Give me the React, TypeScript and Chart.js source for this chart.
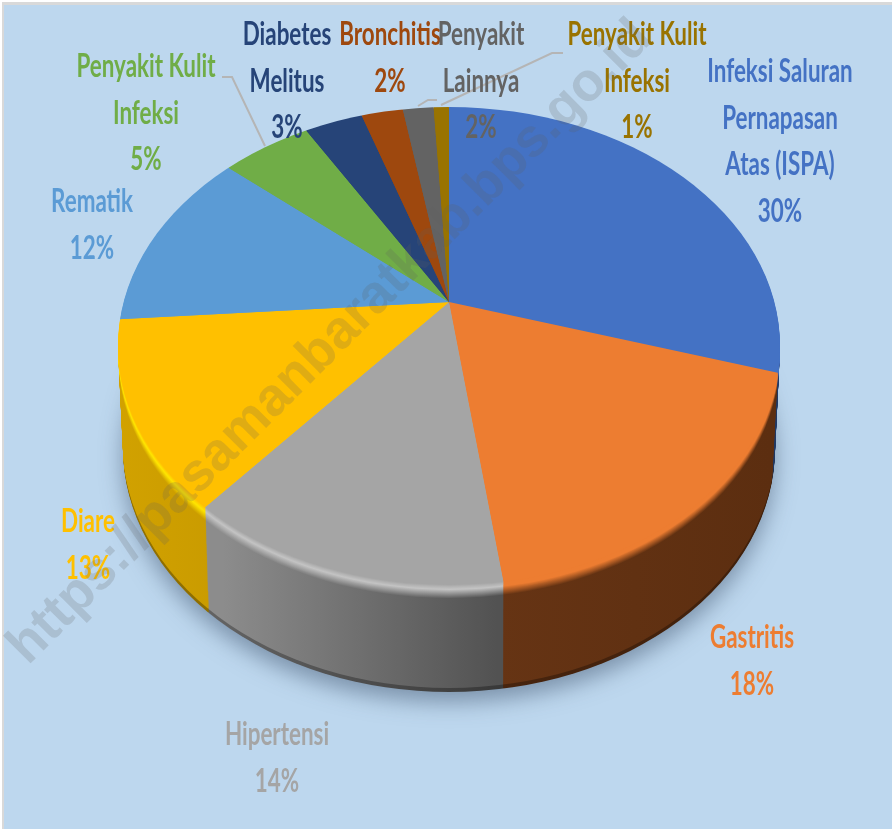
import React, { useEffect, useRef } from "react";
import { Chart, registerables } from "chart.js";

Chart.register(...registerables);

const categories = [
  "Infeksi Saluran Pernapasan Atas (ISPA)", "Gastritis", "Hipertensi", "Diare", "Rematik",
  "Penyakit Kulit Infeksi", "Diabetes Melitus", "Bronchitis", "Penyakit Lainnya", "Penyakit Kulit Infeksi",
];
const values = [30.3, 17.5, 13.8, 13.0, 12.0, 5.0, 3.3, 2.4, 1.8, 0.9];
const faceColors = ["#4472C4", "#ED7D31", "#A5A5A5", "#FFC000", "#5B9BD5", "#70AD47", "#264478", "#9E480E", "#636363", "#997300"];
const rimColors = ["#4472C4", "#ED7D31", "#C4C4C4", "#FFE600", "#7DB5E8", "#70AD47", "#264478", "#9E480E", "#636363", "#997300"];
const wallLeft = ["#2A4A80", "#663414", "#8C8C8C", "#D2A200", "#3A6A96", "#4A7230", "#1A2E50", "#6A300A", "#444444", "#664D00"];
const wallRight = ["#1F3864", "#5C2E10", "#525252", "#C99B00", "#3A6A96", "#4A7230", "#1A2E50", "#6A300A", "#444444", "#664D00"];

const labelLines = [
  ["Infeksi Saluran", "Pernapasan", "Atas (ISPA)", "30%"],
  ["Gastritis", "18%"],
  ["Hipertensi", "14%"],
  ["Diare", "13%"],
  ["Rematik", "12%"],
  ["Penyakit Kulit", "Infeksi", "5%"],
  ["Diabetes", "Melitus", "3%"],
  ["Bronchitis", "2%"],
  ["Penyakit", "Lainnya", "2%"],
  ["Penyakit Kulit", "Infeksi", "1%"],
];
const labelAnchors = [[780, 82], [752, 648], [277, 745], [88, 532], [92, 212], [146, 77], [287, 45], [390, 45], [481, 45], [637, 45]];
const leaderLines = [
  [[222, 77], [232, 77], [265, 146]],
  [[418, 106], [428, 100], [437, 100]],
  [[441, 105], [552, 53], [563, 53]],
];
const watermark = "https://pasamanbaratkab.bps.go.id";

// geometry of the tilted pie
const APEX = { x: 449, y: 302 };
const FACE = { x: 449, y: 346, rx: 331, ry: 239 };
const BASE = { x: 449, y: 448, rx: 326, ry: 244 };
const DEPTH = 108;
const BEVEL = 14;
const TILT = { b: -0.045, c: 0.015, d: 0.72 };

const hex = (s: string) => [1, 3, 5].map((i) => parseInt(s.slice(i, i + 2), 16));
const mix = (a: string, b: string, t: number) => {
  const A = hex(a), B = hex(b);
  return "#" + A.map((v, i) => Math.round(v + (B[i] - v) * t).toString(16).padStart(2, "0")).join("");
};

function applyTilt(ctx: CanvasRenderingContext2D, arc: any, dy: number) {
  ctx.translate(APEX.x, APEX.y + dy);
  ctx.transform(1, TILT.b, TILT.c, TILT.d, 0, 0);
  ctx.translate(-arc.x, -arc.y);
}

const pie3d = {
  id: "pie3d",
  beforeDatasetsDraw(chart: any) {
    const ctx: CanvasRenderingContext2D = chart.ctx;
    const W = chart.width, H = chart.height;
    ctx.save();
    ctx.fillStyle = "#FFFFFF";
    ctx.fillRect(0, 0, W, H);
    ctx.fillStyle = "#D9D9D9";
    ctx.fillRect(2, 2, W, H);
    ctx.fillStyle = "#BDD7EE";
    ctx.fillRect(4, 5, W, H);

    // soft ground shadow
    ctx.save();
    ctx.shadowColor = "rgba(70,90,115,0.55)";
    ctx.shadowBlur = 22;
    ctx.shadowOffsetY = 10;
    ctx.fillStyle = "#8AA0B8";
    ctx.beginPath();
    ctx.ellipse(BASE.x, BASE.y, BASE.rx, BASE.ry, 0, 0, Math.PI * 2);
    ctx.fill();
    ctx.restore();

    const arcs = chart.getDatasetMeta(0).data;
    for (let dy = DEPTH; dy >= 1; dy -= 1) {
      const t = dy / DEPTH;
      const rx = FACE.rx + (BASE.rx - FACE.rx) * t;
      const ry = FACE.ry + (BASE.ry - FACE.ry) * t;
      const cy = FACE.y + (BASE.y - FACE.y) * t;
      ctx.save();
      ctx.beginPath();
      ctx.ellipse(FACE.x, cy, rx, ry, 0, 0, Math.PI * 2);
      ctx.clip();
      applyTilt(ctx, arcs[0], dy);
      arcs.forEach((arc: any, i: number) => {
        const a0 = arc.startAngle, a1 = arc.endAngle;
        const edgeX = (ang: number) => arc.x + Math.cos(ang) * 340;
        const xs = [edgeX(a0), edgeX(a1)];
        const from = Math.min(...xs), to = Math.max(...xs);
        const adjust = (c: string) => {
          if (dy > DEPTH - 4) return mix(c, "#000000", 0.3);
          if (dy >= BEVEL) return c;
          const u = dy / BEVEL;
          return u < 0.35 ? mix(faceColors[i], rimColors[i], u / 0.35) : mix(rimColors[i], c, (u - 0.35) / 0.65);
        };
        const g = ctx.createLinearGradient(from, 0, Math.max(to, from + 1), 0);
        g.addColorStop(0, adjust(wallLeft[i]));
        g.addColorStop(1, adjust(wallRight[i]));
        const saved = arc.options;
        arc.options = { ...saved, backgroundColor: g };
        arc.draw(ctx);
        arc.options = saved;
      });
      ctx.restore();
    }

    // top face: the library's own drawing happens inside this clip and tilt
    ctx.save();
    ctx.beginPath();
    ctx.ellipse(FACE.x, FACE.y, FACE.rx, FACE.ry, 0, 0, Math.PI * 2);
    ctx.clip();
    applyTilt(ctx, arcs[0], 0);
  },
  afterDatasetsDraw(chart: any) {
    const ctx: CanvasRenderingContext2D = chart.ctx;
    ctx.restore();
    ctx.restore();
  },
  afterDraw(chart: any) {
    const ctx: CanvasRenderingContext2D = chart.ctx;
    ctx.save();
    ctx.strokeStyle = "#B5B5B5";
    ctx.lineWidth = 2;
    leaderLines.forEach((pts) => {
      ctx.beginPath();
      pts.forEach(([x, y], i) => (i ? ctx.lineTo(x, y) : ctx.moveTo(x, y)));
      ctx.stroke();
    });
    ctx.textAlign = "center";
    ctx.textBaseline = "alphabetic";
    ctx.font = 'bold 32px Lato, "Open Sans", sans-serif';
    labelLines.forEach((lines, i) => {
      ctx.fillStyle = faceColors[i];
      lines.forEach((line, k) => {
        ctx.save();
        ctx.translate(labelAnchors[i][0], labelAnchors[i][1] + k * 46.7);
        ctx.scale(0.7, 1);
        ctx.fillText(line, 0, 0);
        ctx.restore();
      });
    });
    ctx.save();
    ctx.translate(28, 666);
    ctx.rotate(-Math.PI / 4);
    ctx.textAlign = "left";
    ctx.font = 'bold 54px "Liberation Sans", Arial, sans-serif';
    ctx.fillStyle = "rgba(95,95,95,0.2)";
    ctx.fillText(watermark, 0, 0, 885);
    ctx.restore();
    ctx.restore();
  },
};

export default function App() {
  const ref = useRef<HTMLCanvasElement>(null);
  useEffect(() => {
    const chart = new Chart(ref.current as HTMLCanvasElement, {
      type: "pie",
      data: {
        labels: categories,
        datasets: [{ data: values, backgroundColor: faceColors, borderWidth: 0, clip: false } as any],
      },
      options: {
        animation: false,
        responsive: false,
        radius: 900,
        rotation: 0.85,
        layout: { padding: 0 },
        plugins: { legend: { display: false }, tooltip: { enabled: false } },
      } as any,
      plugins: [pie3d as any],
    });
    return () => chart.destroy();
  }, []);
  return (
    <canvas
      ref={ref}
      width={892}
      height={829}
      style={{ position: "fixed", left: 0, top: 0, display: "block" }}
    />
  );
}
